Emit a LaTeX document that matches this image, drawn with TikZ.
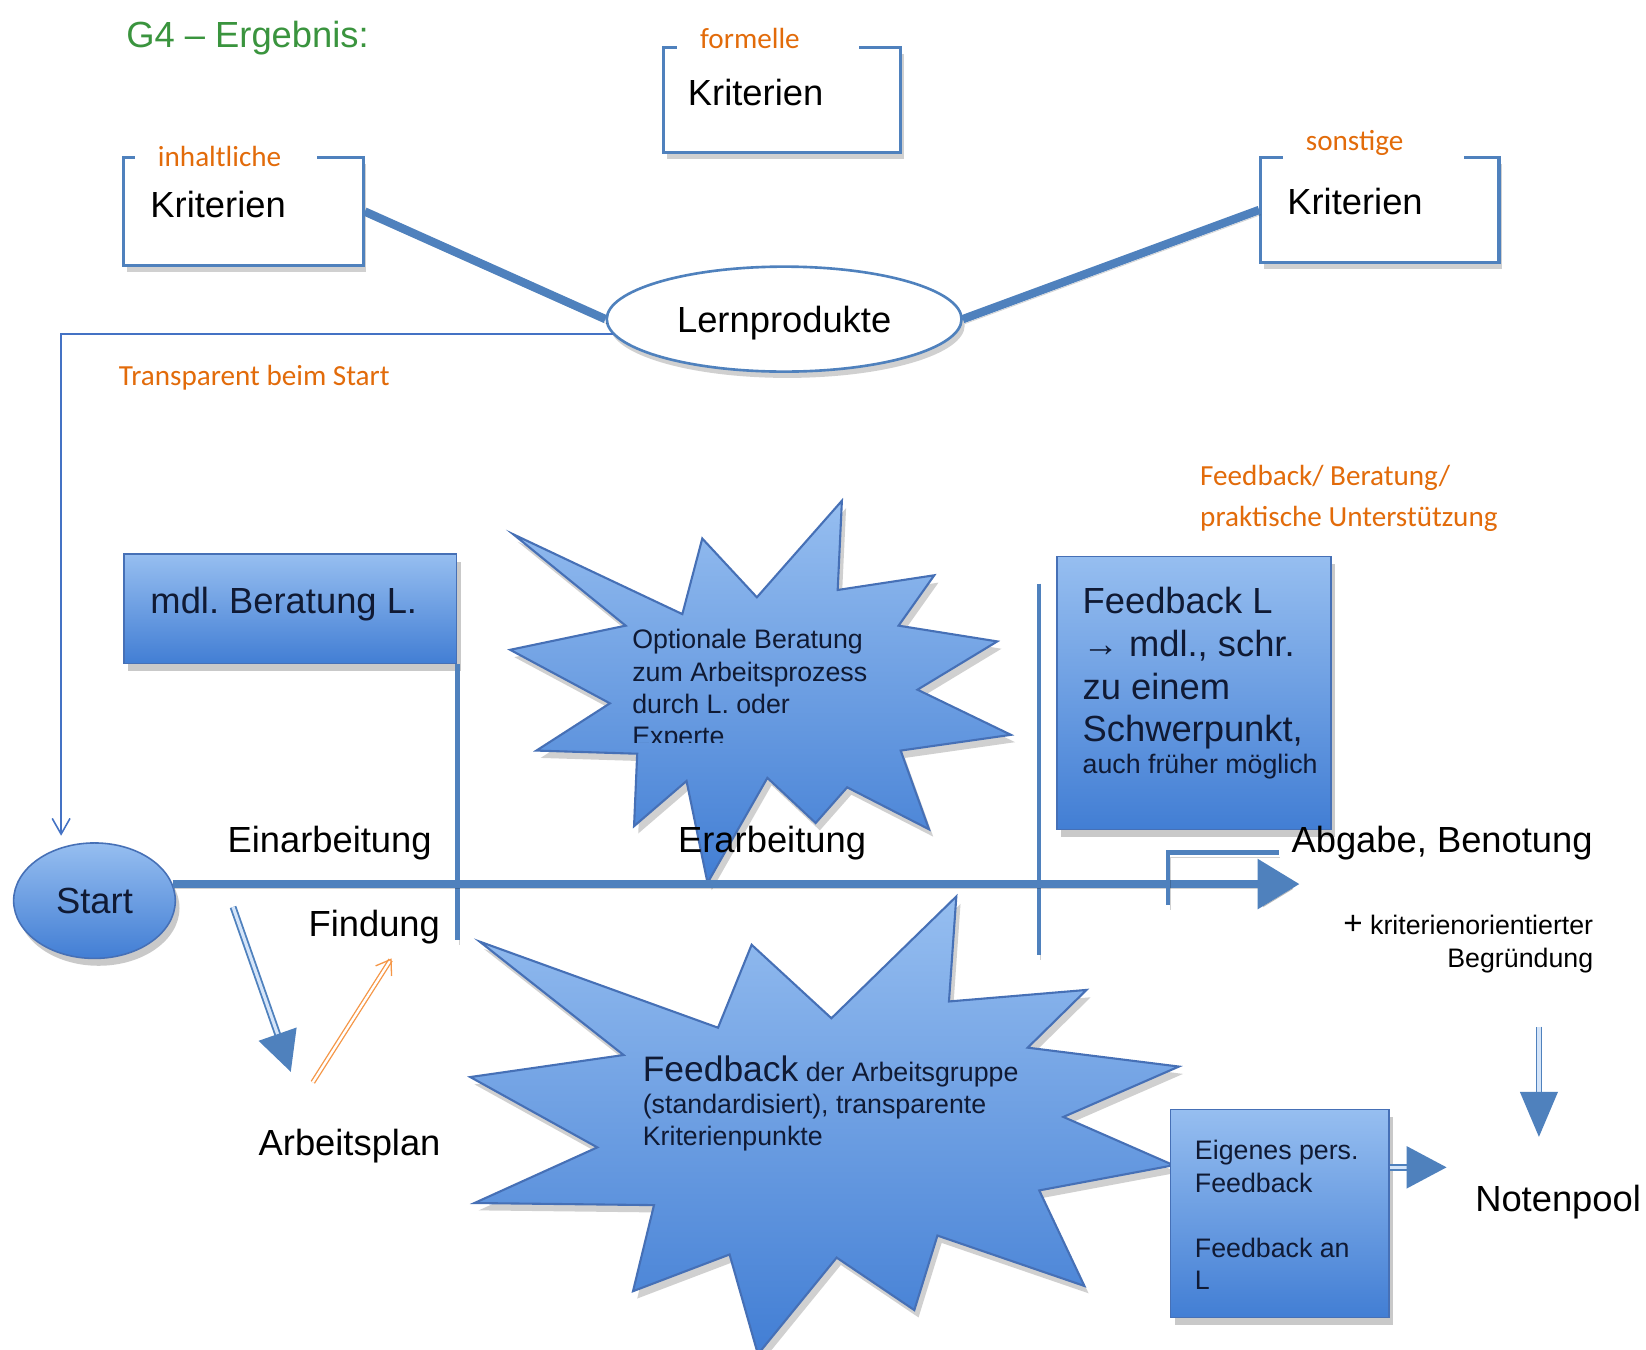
\documentclass[tikz,border=0pt]{standalone}
\usepackage{fontspec}
\setmainfont{Liberation Sans}
\newfontfamily\calibri{Carlito}
\frenchspacing
\usetikzlibrary{arrows.meta,calc,positioning,shapes.geometric,shadows}
\definecolor{lineblue}{RGB}{79,129,189}
\definecolor{thinblue}{RGB}{68,114,196}
\definecolor{edgeblue}{RGB}{70,112,182}
\definecolor{fillhi}{RGB}{150,190,240}
\definecolor{filllo}{RGB}{66,126,212}
\definecolor{darktext}{RGB}{16,26,52}
\definecolor{notecol}{RGB}{226,107,10}
\definecolor{arrorange}{RGB}{245,150,70}
\definecolor{titlegreen}{RGB}{58,148,62}
\tikzset{
  bigfont/.style    = {font=\fontsize{19.7pt}{23.2pt}\selectfont, inner sep=0pt},
  bigline/.style    = {bigfont, text height=14.1pt, text depth=0pt},
  smallfont/.style  = {font=\fontsize{14.5pt}{17.6pt}\selectfont, inner sep=0pt},
  smallline/.style  = {smallfont, text height=10.4pt, text depth=0pt},
  notefont/.style   = {font=\calibri\fontsize{15.8pt}{22.1pt}\selectfont,
                       text=notecol, inner sep=0pt},
  critlabel/.style  = {notefont, fill=white, inner xsep=4.4mm, inner ysep=0pt,
                       text width=25.8mm, align=left, minimum height=8mm,
                       text height=10.2pt, text depth=0pt},
  critbox/.style    = {draw=lineblue, line width=0.6mm, fill=white, inner sep=0pt,
                       drop shadow={shadow xshift=0.6mm, shadow yshift=-1.2mm,
                                    opacity=0.3, fill=black!60}},
  bluebox/.style    = {draw=edgeblue, line width=0.3mm, top color=fillhi,
                       bottom color=filllo, inner sep=0pt,
                       drop shadow={shadow xshift=0.8mm, shadow yshift=-1.4mm,
                                    opacity=0.35, fill=black!60}},
  burst/.style      = {draw=edgeblue, line width=0.4mm, top color=fillhi,
                       bottom color=filllo,
                       drop shadow={shadow xshift=0.8mm, shadow yshift=-1.4mm,
                                    opacity=0.3, fill=black!60}},
  lshadow/.style    = {preaction={draw=black, opacity=0.18,
                       transform canvas={xshift=0.3mm, yshift=-0.9mm}}},
  heavyline/.style  = {draw=lineblue, line width=1.6mm, lshadow},
  sepline/.style    = {draw=lineblue, line width=0.8mm, lshadow},
  thinarrow/.style  = {draw=thinblue, line width=0.3mm,
                       -{Straight Barb[length=3mm,width=3.4mm]}},
  dblarrow/.style   = {draw=lineblue, line width=0.35mm, double=fillhi!40!white,
                       double distance=0.6mm},
  orangearrow/.style= {draw=arrorange, line width=0.25mm, double=white,
                       double distance=0.45mm,
                       -{Straight Barb[length=2.6mm,width=3.6mm]}},
}
\begin{document}
\begin{tikzpicture}[x=0.2mm, y=-0.2mm]
  \path[fill=white] (0,0) rectangle (1568,1286);
  \useasboundingbox (0,0) rectangle (1568,1286);

  \node[bigline, anchor=west, text=titlegreen] (title) at (120,33) {G4 – Ergebnis:};

  % criteria boxes
  \node[critbox, minimum width=45.6mm, minimum height=20.6mm] (kinh) at (232,201.5) {};
  \node[critbox, minimum width=45.2mm, minimum height=20mm] (kform) at (745,95) {};
  \node[critbox, minimum width=45.4mm, minimum height=20mm] (kson) at (1314.5,200) {};
  \node[critlabel] (linh) at (215,150) {inhaltliche};
  \node[critlabel] (lform) at (731.5,37) {formelle};
  \node[critlabel] (lson) at (1308.5,134) {sonstige};
  \node[bigline, anchor=west] (tinh) at (143,195) {Kriterien};
  \node[bigline, anchor=west] (tform) at (655,88) {Kriterien};
  \node[bigline, anchor=west] (tson) at (1226,192) {Kriterien};

  \node[ellipse, draw=lineblue, line width=0.5mm, fill=white, bigline,
        minimum width=67.6mm, minimum height=20mm,
        drop shadow={shadow xshift=0.6mm, shadow yshift=-1.2mm, opacity=0.3, fill=black!60}]
       (lern) at (747,304) {Lernprodukte};
  \draw[heavyline] (kinh.east) -- (lern.west);
  \draw[heavyline] (lern.east) -- (kson.west);

  % transparency note
  \node[ellipse, bluebox, bigline, text=darktext, minimum width=30.8mm, minimum height=22mm]
       (start) at (90,858) {Start};
  \draw[thinarrow, shorten >=2.2mm] (lern.185) -| (start.122);
  \node[notefont, text height=10.2pt, text depth=0pt, anchor=west] (transp) at (113,358)
       {Transparent beim Start};
  \node[notefont, align=left, anchor=west] (fbnote) at (1143,474.5)
       {Feedback/ Beratung/\\praktische Unterstützung};

  % phase one
  \node[bluebox, minimum width=63.4mm, minimum height=20.8mm] (mdl) at (276.5,580) {};
  \node[bigline, anchor=west, text=darktext] (tmdl) at (143,572) {mdl. Beratung L.};
  \draw[sepline] (mdl.south east) -- ++(0,263);

  % optional advice
  \path[burst] (489,509) -- (650,585) -- (669,513) -- (721,569) -- (802,477)
    -- (798,562) -- (890,548) -- (856,596) -- (950,611) -- (874,657) -- (963,700)
    -- (858,715) -- (885,790) -- (807,750) -- (777,784) -- (731,741) -- (674,841)
    -- (654,744) -- (604,787) -- (607,718) -- (511,715) -- (581,670) -- (486,619)
    -- (596,596) -- cycle;
  \begin{scope}
    \clip (480,470) rectangle (1000,707);
    \node[smallfont, align=left, anchor=north west, text=darktext] (topt) at (602,599)
         {Optionale Beratung\\zum Arbeitsprozess\\durch L. oder\\Experte};
  \end{scope}

  % teacher feedback
  \draw[sepline] (990,556) -- (990,910);
  \node[bluebox, minimum width=52.2mm, minimum height=52mm] (fbl) at (1137.5,660) {};
  \node[bigfont, align=left, anchor=north west, text=darktext] (tfbl) at (1031,559)
       {Feedback L\\→ mdl., schr.\\zu einem\\Schwerpunkt,};
  \node[smallline, anchor=west, text=darktext] (tfrueh) at (1031,728) {auch früher möglich};

  % time line
  \coordinate (tlend) at (1238,843);
  \draw[heavyline, -{Triangle[length=8mm,width=9.2mm]}] (start.12) -- (start.12 -| tlend);
  \node[bigline] (einarb) at (314,800) {Einarbeitung};
  \node[bigline] (erarb) at (735.5,800) {Erarbeitung};
  \node[bigline] (findung) at (356.5,880) {Findung};
  \draw[sepline] (1113,862) |- (1218,812);
  \node[bigline, anchor=west] (abgabe) at (1230,800) {Abgabe, Benotung};
  \node[smallfont, align=right, anchor=east] (begr) at (1518,899.5)
       {{\fontsize{18pt}{18pt}\selectfont +} kriterienorientierter\\Begründung};

  % group feedback
  \path[burst] (457,897) -- (684,979) -- (716,900) -- (792,970) -- (911,854)
    -- (904,954) -- (1035,943) -- (979,998) -- (1123,1016) -- (1013,1064)
    -- (1118,1110) -- (990,1134) -- (1033,1225) -- (893,1177) -- (871,1248)
    -- (797,1198) -- (722,1290) -- (695,1195) -- (603,1230) -- (623,1148)
    -- (452,1146) -- (569,1093) -- (448,1026) -- (594,1005) -- cycle;
  \begin{scope}
    \clip (440,850) rectangle (972,1300);
    \node[smallfont, align=left, anchor=north west, text=darktext] (tgrp) at (612,1005)
         {{\fontsize{19.2pt}{19.2pt}\selectfont Feedback} der Arbeitsgruppe\\(standardisiert), transparente\\Kriterienpunkte};
  \end{scope}
  \node[bluebox, minimum width=41.6mm, minimum height=39.6mm] (eigen) at (1219,1156) {};
  \node[smallfont, align=left, anchor=north west, text=darktext] (teigen) at (1138,1086)
       {Eigenes pers.\\Feedback\\[17.6pt]Feedback an\\L};

  % grade pool
  \node[bigline, anchor=west] (noten) at (1405,1142) {Notenpool};
  \draw[dblarrow, -{Triangle[length=8.6mm,width=7.2mm]}] (1466,978) -- (1466,1083);
  \draw[dblarrow, -{Triangle[length=7.6mm,width=8mm]}] (eigen.east |- 0,1112) -- (1378,1112);

  % work plan
  \node[bigline] (arbplan) at (333,1088) {Arbeitsplan};
  \draw[dblarrow, -{Triangle[length=7.6mm,width=7.6mm]}] (222,864) -- (277,1021);
  \draw[orangearrow] (298,1031) -- (373,913);
\end{tikzpicture}
\end{document}
